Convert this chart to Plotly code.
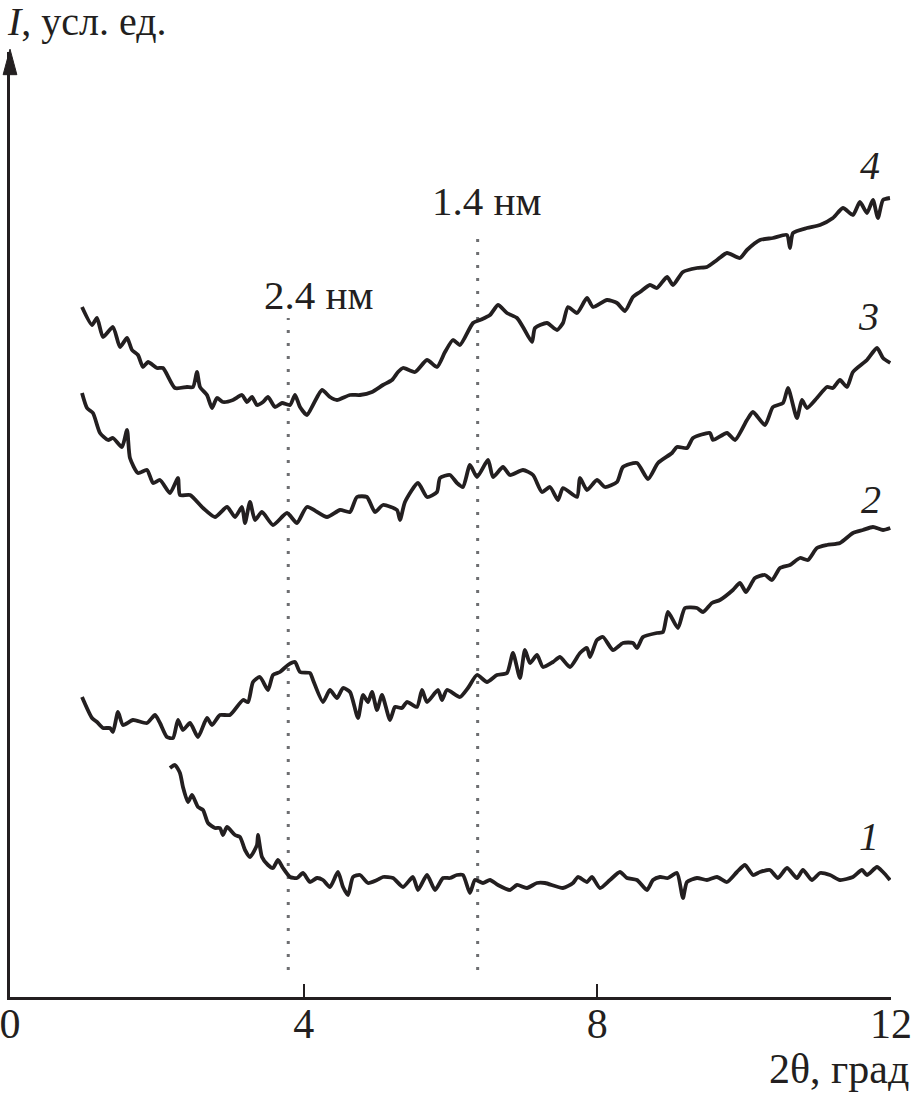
import plotly.graph_objects as go

# ---- data (2θ in degrees, intensity in arbitrary units) ----
x1 = [2.179, 2.247, 2.315, 2.356, 2.424, 2.479, 2.561, 2.629, 2.697, 2.792,
      2.860, 2.901, 2.956, 3.065, 3.133, 3.201, 3.269, 3.364, 3.378, 3.432,
      3.514, 3.582, 3.650, 3.718, 3.814, 3.909, 3.991, 4.086, 4.181, 4.263,
      4.358, 4.467, 4.536, 4.604, 4.672, 4.767, 4.876, 4.999, 5.080, 5.217,
      5.353, 5.489, 5.557, 5.680, 5.789, 5.898, 5.993, 6.088, 6.170, 6.265,
      6.333, 6.442, 6.538, 6.647, 6.810, 6.906, 7.042, 7.178, 7.287, 7.532,
      7.668, 7.736, 7.859, 7.927, 8.036, 8.172, 8.308, 8.404, 8.540, 8.676,
      8.758, 8.853, 8.962, 9.085, 9.166, 9.221, 9.357, 9.493, 9.630, 9.766,
      9.902, 10.011, 10.120, 10.215, 10.351, 10.460, 10.583, 10.719, 10.801, 10.923,
      11.033, 11.169, 11.305, 11.482, 11.604, 11.673, 11.809, 11.891, 11.986]
y1 = [22.9, 23.2, 22.4, 21.0, 19.5, 20.2, 19.0, 18.7, 17.4, 16.9,
      16.9, 16.2, 17.0, 16.2, 16.0, 14.7, 14.0, 15.2, 16.2, 14.0,
      13.2, 12.9, 13.7, 12.9, 12.0, 11.9, 12.4, 11.5, 11.9, 11.7,
      11.0, 12.5, 11.0, 10.2, 12.0, 12.2, 11.4, 11.7, 12.0, 11.9,
      11.0, 12.0, 10.7, 12.2, 10.7, 11.9, 11.9, 12.2, 12.2, 10.4,
      11.7, 11.4, 11.7, 11.2, 10.7, 11.2, 10.9, 11.4, 11.4, 10.9,
      11.4, 12.0, 11.5, 12.0, 10.9, 11.7, 12.5, 11.9, 11.7, 10.7,
      11.7, 12.0, 11.9, 12.4, 9.9, 11.5, 11.9, 11.7, 12.0, 11.5,
      12.5, 13.2, 12.2, 12.5, 12.7, 11.9, 12.9, 11.9, 12.7, 11.7,
      12.4, 12.2, 11.7, 12.0, 12.7, 12.2, 13.0, 12.5, 11.7]

x2 = [0.981, 1.117, 1.185, 1.267, 1.362, 1.403, 1.471, 1.539, 1.675, 1.866,
      1.975, 2.043, 2.138, 2.220, 2.288, 2.356, 2.452, 2.561, 2.683, 2.751,
      2.860, 2.996, 3.174, 3.242, 3.310, 3.405, 3.514, 3.582, 3.677, 3.786,
      3.882, 3.950, 4.086, 4.127, 4.263, 4.358, 4.454, 4.536, 4.631, 4.740,
      4.808, 4.876, 4.931, 4.999, 5.067, 5.176, 5.244, 5.339, 5.407, 5.543,
      5.612, 5.680, 5.830, 5.884, 5.952, 6.129, 6.238, 6.361, 6.497, 6.633,
      6.769, 6.851, 6.946, 7.014, 7.083, 7.178, 7.260, 7.396, 7.491, 7.627,
      7.764, 7.859, 7.900, 7.995, 8.077, 8.213, 8.349, 8.485, 8.540, 8.622,
      8.812, 8.894, 8.962, 9.098, 9.194, 9.357, 9.439, 9.561, 9.670, 9.847,
      9.943, 10.025, 10.147, 10.283, 10.379, 10.488, 10.624, 10.760, 10.869, 10.991,
      11.128, 11.305, 11.482, 11.618, 11.754, 11.891, 11.99]
y2 = [30.0, 27.9, 27.5, 26.9, 26.9, 26.5, 28.5, 27.2, 27.7, 27.4,
      28.2, 27.4, 26.0, 25.9, 27.7, 26.7, 27.4, 26.0, 27.9, 27.2,
      28.2, 28.2, 29.7, 29.5, 31.5, 32.0, 30.7, 32.2, 32.5, 33.2,
      33.5, 32.5, 32.4, 31.7, 29.5, 30.7, 29.9, 30.9, 30.5, 27.9,
      30.2, 29.5, 30.5, 28.7, 30.2, 27.7, 29.0, 28.9, 29.5, 29.0,
      30.7, 29.5, 30.7, 29.7, 30.7, 30.0, 30.9, 32.2, 31.5, 32.2,
      32.4, 34.4, 31.9, 34.7, 33.4, 34.2, 33.0, 33.5, 34.0, 33.0,
      34.4, 34.9, 34.0, 35.7, 36.0, 34.7, 35.4, 35.4, 34.9, 36.0,
      36.4, 36.5, 38.5, 36.9, 38.9, 38.9, 38.5, 39.4, 39.7, 40.7,
      41.4, 40.5, 41.9, 42.2, 41.7, 42.9, 43.2, 43.9, 43.7, 44.9,
      45.2, 45.4, 46.4, 46.7, 47.0, 46.7, 46.9]

x3 = [0.981, 1.049, 1.130, 1.226, 1.335, 1.403, 1.525, 1.594, 1.634, 1.743,
      1.866, 1.948, 2.043, 2.179, 2.288, 2.315, 2.452, 2.629, 2.792, 2.956,
      3.065, 3.160, 3.201, 3.269, 3.337, 3.432, 3.582, 3.773, 3.909, 4.045,
      4.318, 4.495, 4.631, 4.726, 4.862, 4.971, 5.080, 5.271, 5.312, 5.380,
      5.557, 5.680, 5.816, 5.857, 5.993, 6.088, 6.170, 6.265, 6.361, 6.511,
      6.579, 6.715, 6.810, 6.987, 7.124, 7.246, 7.355, 7.464, 7.532, 7.723,
      7.764, 7.859, 7.995, 8.104, 8.268, 8.349, 8.540, 8.690, 8.826, 9.017,
      9.085, 9.221, 9.303, 9.534, 9.575, 9.766, 9.875, 10.038, 10.120, 10.283,
      10.392, 10.529, 10.597, 10.719, 10.787, 10.855, 10.991, 11.128, 11.209, 11.305,
      11.400, 11.482, 11.673, 11.809, 11.891, 11.99]
y3 = [60.4, 58.9, 58.4, 56.4, 55.7, 55.9, 55.0, 56.7, 53.9, 52.4,
      52.7, 51.4, 51.7, 50.4, 51.9, 50.2, 50.2, 48.9, 48.0, 49.0,
      48.0, 49.0, 47.4, 49.5, 47.7, 48.5, 47.2, 48.4, 47.4, 49.0,
      48.0, 48.7, 48.5, 50.0, 50.0, 48.5, 49.2, 48.7, 47.7, 49.5,
      51.4, 50.0, 50.5, 51.9, 52.2, 51.4, 51.0, 53.2, 52.0, 53.7,
      52.0, 53.0, 52.2, 52.7, 52.2, 50.5, 51.0, 49.7, 50.9, 50.0,
      51.9, 50.7, 51.7, 51.0, 51.5, 53.0, 53.4, 51.8, 53.4, 54.4,
      55.0, 54.9, 55.9, 56.4, 55.7, 56.4, 55.7, 57.7, 58.5, 57.2,
      59.0, 59.4, 60.9, 57.9, 59.7, 58.9, 59.9, 61.0, 60.9, 61.7,
      61.0, 62.5, 63.7, 64.9, 63.9, 63.4]

x4 = [0.981, 1.117, 1.185, 1.267, 1.403, 1.498, 1.594, 1.662, 1.743, 1.811,
      1.880, 2.002, 2.084, 2.247, 2.411, 2.493, 2.547, 2.588, 2.683, 2.751,
      2.819, 2.901, 3.037, 3.160, 3.228, 3.296, 3.364, 3.446, 3.514, 3.609,
      3.705, 3.814, 3.882, 3.950, 4.045, 4.127, 4.250, 4.358, 4.454, 4.631,
      4.767, 4.931, 5.080, 5.203, 5.285, 5.353, 5.516, 5.680, 5.816, 5.925,
      6.034, 6.129, 6.306, 6.402, 6.538, 6.647, 6.769, 6.906, 6.987, 7.110,
      7.151, 7.314, 7.450, 7.532, 7.600, 7.723, 7.859, 7.941, 8.131, 8.268,
      8.377, 8.485, 8.581, 8.717, 8.812, 8.949, 9.030, 9.166, 9.357, 9.493,
      9.630, 9.766, 9.943, 10.038, 10.215, 10.392, 10.583, 10.624, 10.665, 10.855,
      11.033, 11.209, 11.346, 11.482, 11.577, 11.673, 11.754, 11.822, 11.891, 11.986]
y4 = [69.0, 67.2, 67.9, 66.0, 67.0, 65.0, 65.9, 64.7, 64.2, 63.0,
      63.5, 62.9, 62.9, 60.9, 61.0, 61.0, 62.5, 61.0, 60.2, 58.9,
      59.9, 59.5, 59.7, 60.2, 59.5, 60.0, 59.2, 59.5, 60.0, 59.0,
      59.4, 59.2, 60.2, 59.0, 58.2, 59.2, 60.7, 60.0, 59.7, 60.2,
      60.2, 60.5, 61.2, 61.7, 62.5, 62.9, 62.5, 63.7, 63.0, 64.5,
      65.7, 65.2, 67.4, 67.7, 68.2, 69.2, 68.4, 67.9, 67.0, 65.5,
      66.9, 67.4, 66.7, 67.4, 69.0, 68.4, 69.9, 69.0, 69.7, 69.4,
      68.6, 70.0, 70.5, 71.2, 70.9, 72.0, 71.2, 72.5, 72.9, 73.0,
      73.7, 74.4, 73.9, 74.7, 75.7, 75.9, 76.2, 74.9, 76.4, 76.9,
      77.2, 77.9, 78.9, 78.2, 79.5, 78.4, 79.7, 77.9, 79.7, 79.9]

curve_labels = ["1", "2", "3", "4"]
label_x = [11.70, 11.73, 11.70, 11.71]
label_y = [16.1, 49.8, 68.1, 83.2]

marker_x = [3.79, 6.37]              # d-spacing reference positions, 2θ
marker_top = [67.9, 76.5]
marker_bottom = [2.7, 2.7]
marker_text = ["2.4 нм", "1.4 нм"]
marker_text_x = [4.20, 6.49]
marker_text_y = [70.2, 79.6]

x_ticks = [0, 4, 8, 12]

INK = "#231f20"
FONT = "Liberation Serif"

fig = go.Figure()

# dotted reference lines
for mx, lo, hi in zip(marker_x, marker_bottom, marker_top):
    fig.add_trace(go.Scatter(x=[mx, mx], y=[lo, hi], mode="lines",
                             line=dict(color="#6d6e71", width=3, dash="3px,10px"),
                             hoverinfo="skip", showlegend=False))

for xs, ys in [(x1, y1), (x2, y2), (x3, y3), (x4, y4)]:
    fig.add_trace(go.Scatter(x=xs, y=ys, mode="lines",
                             line=dict(color=INK, width=3.8, shape="spline", smoothing=0.6),
                             showlegend=False))

annotations = []
for t, lx, ly in zip(curve_labels, label_x, label_y):
    annotations.append(dict(x=lx, y=ly, xref="x", yref="y", text="<i>" + t + "</i>",
                            showarrow=False, font=dict(family=FONT, size=40, color=INK)))
for t, tx, ty in zip(marker_text, marker_text_x, marker_text_y):
    annotations.append(dict(x=tx, y=ty, xref="x", yref="y", text=t,
                            showarrow=False, font=dict(family=FONT, size=41, color=INK)))
annotations.append(dict(x=-0.006, y=1.032, xref="paper", yref="paper", xanchor="left",
                        yanchor="middle", text="<i>I</i>, усл. ед.", showarrow=False,
                        font=dict(family=FONT, size=40, color=INK)))
annotations.append(dict(x=1.0227, y=-0.076, xref="paper", yref="paper", xanchor="right",
                        yanchor="middle", text="2θ, град", showarrow=False,
                        font=dict(family=FONT, size=42, color=INK)))

fig.update_layout(
    width=911, height=1095,
    margin=dict(l=10, r=20, t=52, b=98),
    paper_bgcolor="white", plot_bgcolor="white",
    showlegend=False,
    annotations=annotations,
    shapes=[dict(type="path", xref="paper", yref="paper",
                 path="M 0 1.003 L -0.0078 0.976 L 0.0078 0.976 Z",
                 fillcolor=INK, line=dict(color=INK, width=1))],
)
fig.update_xaxes(range=[0, 12], tickvals=x_ticks, ticktext=[str(v) for v in x_ticks],
                 showline=True, linecolor=INK, linewidth=2.5, showgrid=False,
                 zeroline=False, ticks="inside", ticklen=13, tickwidth=2,
                 tickcolor=INK, tickfont=dict(family=FONT, size=42, color=INK),
                 ticklabeloverflow="allow", ticklabelstandoff=-12, automargin=False)
fig.update_yaxes(range=[0, 94.5], showline=True, linecolor=INK, linewidth=2.5,
                 showgrid=False, zeroline=False, showticklabels=False, ticks="",
                 automargin=False)

fig.write_html("out.html", config={"displayModeBar": False},
               post_script="document.body.style.margin='0';document.body.style.padding='0';")
